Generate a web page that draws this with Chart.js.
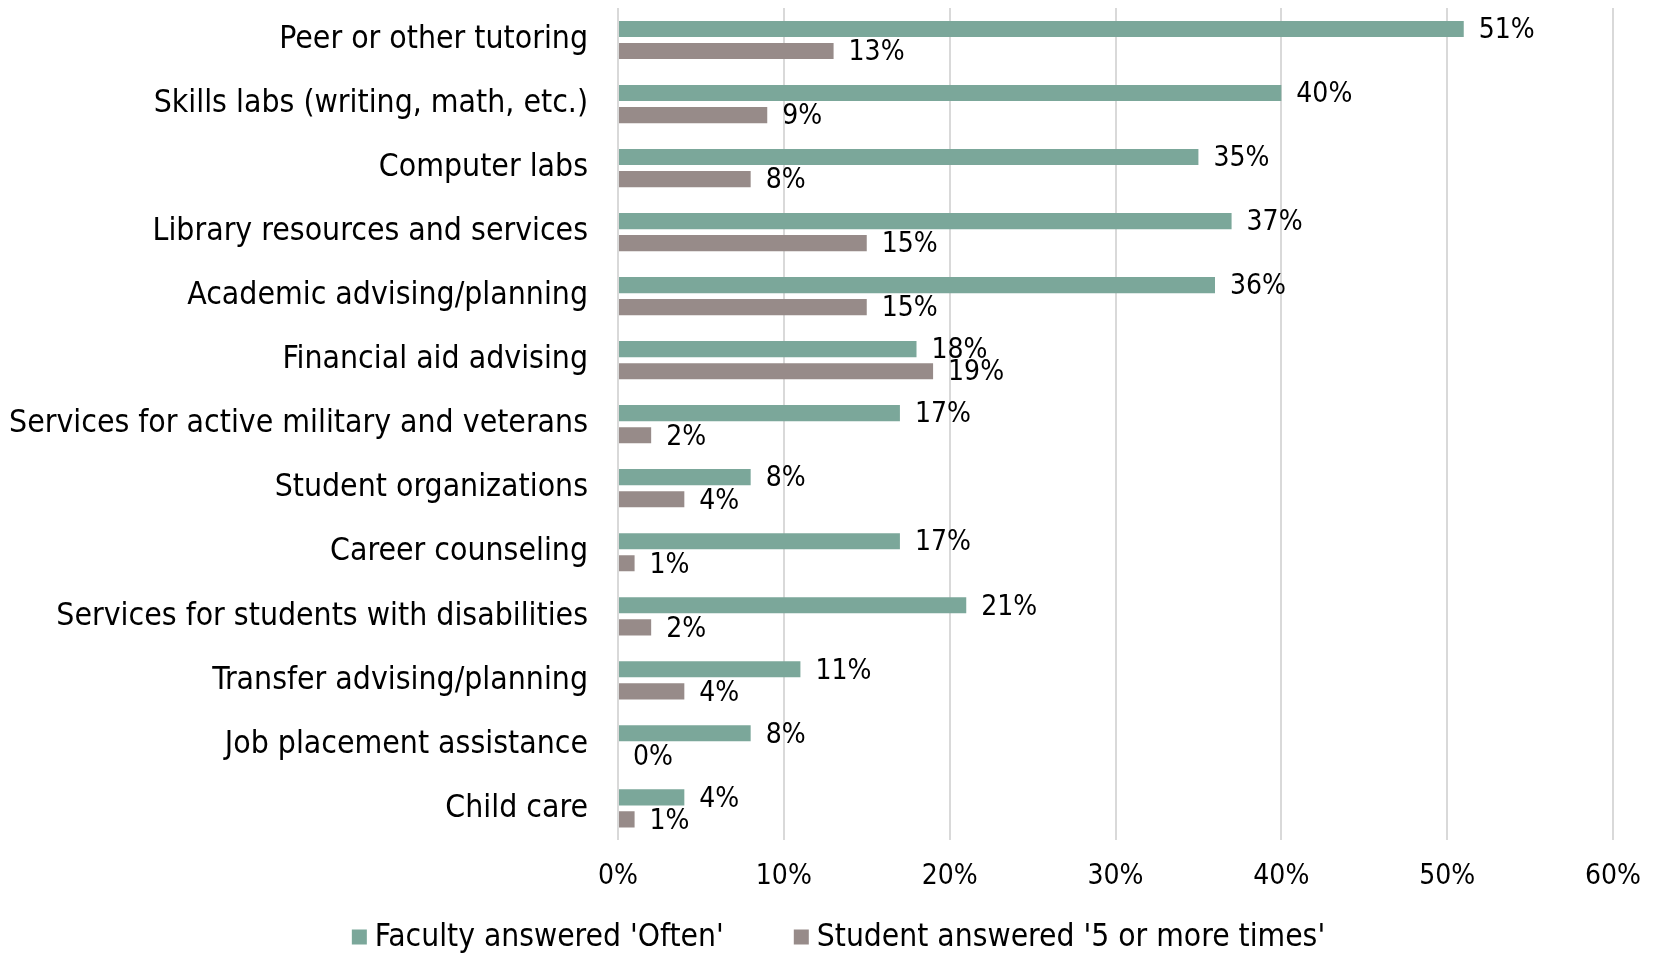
<!DOCTYPE html>
<html>
<head>
<meta charset="utf-8">
<script src="https://cdn.jsdelivr.net/npm/chart.js@4.4.1/dist/chart.umd.min.js"></script>
<style>
  html, body { margin: 0; padding: 0; background: #fff; }
  #wrap { width: 1653px; height: 953px; position: relative; }
</style>
</head>
<body>
<div id="wrap"><canvas id="services-chart"></canvas></div>
<script>
const SERVICES = [
  "Peer or other tutoring",
  "Skills labs (writing, math, etc.)",
  "Computer labs",
  "Library resources and services",
  "Academic advising/planning",
  "Financial aid advising",
  "Services for active military and veterans",
  "Student organizations",
  "Career counseling",
  "Services for students with disabilities",
  "Transfer advising/planning",
  "Job placement assistance",
  "Child care",
];
const FACULTY_OFTEN = [51, 40, 35, 37, 36, 18, 17, 8, 17, 21, 11, 8, 4];
const STUDENT_5_PLUS = [13, 9, 8, 15, 15, 19, 2, 4, 1, 2, 4, 0, 1];
const X_MAX = 60;
const X_STEP = 10;

const GREEN = "#7ba79a";
const GRAY = "#978b89";
const LABEL_FONT = "'DejaVu Sans Condensed', 'DejaVu Sans', sans-serif";
const NUM_FONT = "'DejaVu Sans Condensed', 'DejaVu Sans', sans-serif";
const NUM_SIZE = 28;

// value labels at the end of each bar
const barValueLabels = {
  id: "barValueLabels",
  afterDatasetsDraw(chart) {
    const ctx = chart.ctx;
    ctx.save();
    ctx.font = NUM_SIZE + "px " + NUM_FONT;
    ctx.fillStyle = "#000";
    ctx.textAlign = "left";
    ctx.textBaseline = "middle";
    chart.data.datasets.forEach((ds, i) => {
      chart.getDatasetMeta(i).data.forEach((bar, j) => {
        ctx.fillText(ds.data[j] + "%", bar.x + 15, bar.y + 2);
      });
    });
    ctx.restore();
  },
};

// legend row under the axis
const bottomLegend = {
  id: "bottomLegend",
  afterDraw(chart) {
    const ctx = chart.ctx;
    const box = 15, gap = 8, spacing = 70;
    const y = 937;
    ctx.save();
    ctx.font = "31.5px " + LABEL_FONT;
    ctx.textBaseline = "middle";
    ctx.textAlign = "left";
    const items = chart.data.datasets.map((ds) => ({
      text: ds.label,
      color: ds.backgroundColor,
      w: ctx.measureText(ds.label).width,
    }));
    const total = items.reduce((s, it) => s + box + gap + it.w, 0) + spacing * (items.length - 1);
    let x = chart.width / 2 + 12 - total / 2;
    items.forEach((it) => {
      ctx.fillStyle = it.color;
      ctx.fillRect(x, y - box / 2, box, box);
      x += box + gap;
      ctx.fillStyle = "#000";
      ctx.fillText(it.text, x, y + 1);
      x += it.w + spacing;
    });
    ctx.restore();
  },
};

new Chart(document.getElementById("services-chart"), {
  type: "bar",
  data: {
    labels: SERVICES,
    datasets: [
      {
        label: "Faculty answered 'Often'",
        data: FACULTY_OFTEN,
        backgroundColor: GREEN,
        categoryPercentage: 0.69,
        barPercentage: 0.73,
      },
      {
        label: "Student answered '5 or more times'",
        data: STUDENT_5_PLUS,
        backgroundColor: GRAY,
        categoryPercentage: 0.69,
        barPercentage: 0.73,
      },
    ],
  },
  options: {
    indexAxis: "y",
    responsive: true,
    maintainAspectRatio: false,
    animation: false,
    layout: { padding: { top: 8, right: 40, bottom: 59, left: 0 } },
    plugins: {
      legend: { display: false },
      tooltip: { enabled: false },
    },
    scales: {
      x: {
        min: 0,
        max: X_MAX,
        ticks: {
          stepSize: X_STEP,
          color: "#000",
          padding: 20,
          font: { family: NUM_FONT, size: NUM_SIZE },
          callback: (v) => v + "%",
        },
        grid: { color: "#d9d9d9", lineWidth: 2, drawTicks: false },
        border: { display: false },
        afterFit: (scale) => {
          scale.paddingLeft = 0;
          scale.paddingRight = 0;
          scale.height = 20 + NUM_SIZE * 1.2;
        },
      },
      y: {
        ticks: {
          color: "#000",
          padding: 0,
          font: { family: LABEL_FONT, size: 31.7 },
        },
        grid: {
          display: true,
          drawOnChartArea: false,
          drawTicks: true,
          tickLength: 30,
          tickColor: "rgba(0,0,0,0)",
        },
        border: { display: false },
        afterFit: (scale) => {
          scale.width = 618;
          scale.paddingTop = 0;
          scale.paddingBottom = 0;
        },
      },
    },
  },
  plugins: [barValueLabels, bottomLegend],
});
</script>
</body>
</html>
